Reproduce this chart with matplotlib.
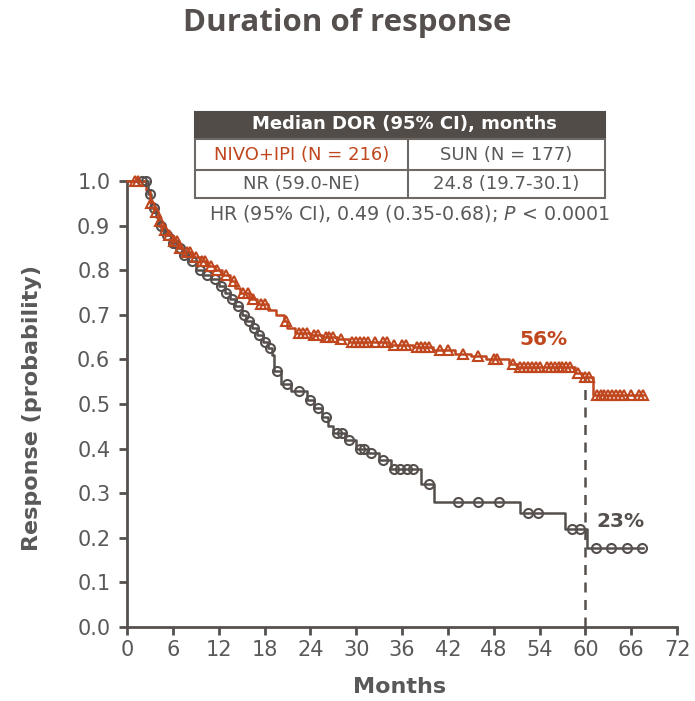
import numpy as np
import matplotlib
matplotlib.use("Agg")
import matplotlib.pyplot as plt
from matplotlib.patches import Rectangle

plt.rcParams['font.family'] = ['DejaVu Sans']

RED = "#C0461E"
GRAY = "#55504D"
TXT = "#595959"

# ---- data ----
nivo_t = [0, 2.5, 3.0, 3.5, 4.0, 4.5, 5.2, 6.0, 6.8, 7.5, 8.5, 9.5, 10.5, 11.5, 12.5,
          13.5, 14.2, 14.8, 16.0, 17.0, 18.5, 19.5, 20.5, 21.0, 22.0, 24.0, 25.5, 27.5,
          29.0, 34.3, 37.5, 40.0, 43.0, 45.0, 47.0, 50.0, 51.0, 58.7, 59.5, 61.0]
nivo_s = [1.0, 0.98, 0.95, 0.93, 0.91, 0.89, 0.88, 0.865, 0.85, 0.84, 0.83, 0.82, 0.81,
          0.80, 0.79, 0.775, 0.76, 0.75, 0.735, 0.725, 0.71, 0.70, 0.685, 0.67, 0.66,
          0.655, 0.65, 0.645, 0.64, 0.633, 0.628, 0.62, 0.612, 0.607, 0.60, 0.59, 0.582,
          0.57, 0.56, 0.52]
nivo_cens = [1.0, 1.5, 3.2, 3.8, 4.3, 5.0, 5.5, 6.2, 6.5, 7.0, 7.8, 8.2, 9.0, 9.8, 10.2,
             11.0, 11.8, 13.0, 14.0, 15.2, 15.8, 16.5, 17.5, 18.0, 20.8, 22.5, 23.0, 23.5,
             24.5, 25.0, 26.0, 26.5, 27.0, 28.0, 29.5, 30.0, 30.5, 31.0, 31.5, 32.5, 33.5,
             34.0, 35.0, 36.0, 36.5, 38.0, 38.5, 39.0, 39.5, 41.0, 42.0, 44.0, 46.0, 48.0,
             48.5, 50.5, 51.5, 52.0, 52.5, 53.0, 53.5, 54.0, 55.0, 55.5, 56.0, 56.5, 57.0,
             57.5, 58.0, 59.0, 60.0, 60.5, 61.5, 62.0, 62.5, 63.0, 63.5, 64.0, 64.5, 65.0,
             66.0, 67.0, 67.5]
nivo_end = 67.5

sun_t = [0, 2.8, 3.2, 3.8, 4.2, 5.0, 5.8, 6.5, 7.2, 8.0, 9.0, 10.0, 11.0, 12.0, 12.8,
         13.5, 14.2, 15.0, 15.6, 16.3, 17.0, 17.8, 18.5, 19.0, 19.3, 20.2, 21.5, 23.5,
         24.5, 25.5, 26.3, 27.0, 28.5, 30.0, 31.5, 33.0, 34.5, 38.5, 40.2, 51.5, 57.3, 60.2]
sun_s = [1.0, 0.97, 0.94, 0.92, 0.90, 0.88, 0.86, 0.85, 0.835, 0.82, 0.80, 0.79, 0.78,
         0.765, 0.75, 0.735, 0.72, 0.70, 0.685, 0.67, 0.655, 0.64, 0.625, 0.61, 0.575,
         0.545, 0.53, 0.51, 0.49, 0.47, 0.45, 0.435, 0.42, 0.40, 0.39, 0.375, 0.355,
         0.32, 0.28, 0.255, 0.22, 0.178]
sun_cens = [2.0, 2.5, 3.0, 3.5, 4.5, 5.3, 6.0, 7.0, 7.5, 8.5, 9.5, 10.5, 11.5, 12.3, 13.0,
            13.8, 14.5, 15.3, 16.0, 16.6, 17.3, 18.0, 18.7, 19.7, 21.0, 22.5, 24.0, 25.0,
            26.0, 27.5, 28.2, 29.0, 30.5, 31.0, 32.0, 33.5, 35.0, 35.8, 36.6, 37.5, 39.5,
            43.3, 46.0, 48.7, 52.5, 53.8, 58.2, 59.3, 61.4, 63.4, 65.4, 67.4]
sun_end = 67.5

x_ticks = [0, 6, 12, 18, 24, 30, 36, 42, 48, 54, 60, 66, 72]
y_ticks = [0.0, 0.1, 0.2, 0.3, 0.4, 0.5, 0.6, 0.7, 0.8, 0.9, 1.0]
landmark = 60
nivo_label = "56%"
sun_label = "23%"


def surv_at(t_steps, s_steps, t):
    idx = np.searchsorted(np.asarray(t_steps), np.asarray(t), side='right') - 1
    return np.asarray(s_steps)[idx]


fig = plt.figure(figsize=(6.95, 7.01), dpi=100)
ax = fig.add_axes([127 / 695, 1 - 627 / 701, 550 / 695, 446 / 701])

# curves
for t, s, end, cens, col, mk in [(sun_t, sun_s, sun_end, sun_cens, GRAY, 'o'),
                                  (nivo_t, nivo_s, nivo_end, nivo_cens, RED, '^')]:
    tt = list(t) + [end]
    ss = list(s) + [s[-1]]
    ax.step(tt, ss, where='post', color=col, lw=1.8, clip_on=False, zorder=3)
    ax.plot(cens, surv_at(t, s, cens), linestyle='none', marker=mk, ms=6.5,
            mfc='none', mec=col, mew=1.5, clip_on=False, zorder=4)

# landmark dashed line
ax.plot([landmark, landmark], [0, surv_at(nivo_t, nivo_s, landmark - 0.01)],
        color=GRAY, lw=1.8, ls=(0, (4, 3)), zorder=2)

ax.text(54.5, 0.645, nivo_label, color=RED, fontsize=14.5, fontweight='bold',
        ha='center', va='center')
ax.text(64.6, 0.237, sun_label, color=GRAY, fontsize=14.5, fontweight='bold',
        ha='center', va='center')

ax.set_xlim(0, 72)
ax.set_ylim(0, 1.0)
ax.set_xticks(x_ticks)
ax.set_yticks(y_ticks)
ax.set_yticklabels([f"{v:.1f}" for v in y_ticks])
for sp in ['top', 'right']:
    ax.spines[sp].set_visible(False)
for sp in ['left', 'bottom']:
    ax.spines[sp].set_color(GRAY)
    ax.spines[sp].set_linewidth(2)
ax.tick_params(axis='both', direction='out', color=GRAY, width=2, length=6,
               labelsize=15, labelcolor=TXT, pad=3)
ax.tick_params(axis='y', pad=6)
ax.set_xlabel("Months", fontsize=16, fontweight='bold', color=TXT)
ax.set_ylabel("Response (probability)", fontsize=16, fontweight='bold', color=TXT)
ax.yaxis.set_label_coords((42 - 127) / 550, (627 - 408) / 446)
ax.xaxis.set_label_coords((400 - 127) / 550, -(677 - 627) / 446)

# title
fig.text(0.5, 1 - 23 / 701, "Duration of response", ha='center', va='center',
         fontsize=22.5, fontweight='bold', color=GRAY, family='Open Sans')

# table
W, H = 695, 701
def fx(px): return px / W
def fy(py): return 1 - py / H
x0, x1, xm = 195, 605, 408
y0, y1, y2, y3 = 112, 139, 170, 198
fig.patches.append(Rectangle((fx(x0), fy(y1)), fx(x1) - fx(x0), fy(y0) - fy(y1),
                             transform=fig.transFigure, facecolor="#524C48",
                             edgecolor="#524C48", lw=1.5))
fig.patches.append(Rectangle((fx(x0), fy(y3)), fx(x1) - fx(x0), fy(y1) - fy(y3),
                             transform=fig.transFigure, facecolor="white",
                             edgecolor="#6E6965", lw=1.5))
fig.add_artist(plt.Line2D([fx(x0), fx(x1)], [fy(y2), fy(y2)], color="#6E6965", lw=1.5))
fig.add_artist(plt.Line2D([fx(xm), fx(xm)], [fy(y1), fy(y3)], color="#6E6965", lw=1.5))
fig.text(fx((x0 + x1) / 2) + 0.006, fy((y0 + y1) / 2) + 0.002, "Median DOR (95% CI), months",
         ha='center', va='center', color='white', fontweight='bold', fontsize=13)
fig.text(fx((x0 + xm) / 2), fy((y1 + y2) / 2), "NIVO+IPI (N = 216)",
         ha='center', va='center', color=RED, fontsize=13)
fig.text(fx((xm + x1) / 2), fy((y1 + y2) / 2), "SUN (N = 177)",
         ha='center', va='center', color=TXT, fontsize=13)
fig.text(fx((x0 + xm) / 2), fy((y2 + y3) / 2), "NR (59.0-NE)",
         ha='center', va='center', color=TXT, fontsize=13)
fig.text(fx((xm + x1) / 2), fy((y2 + y3) / 2), "24.8 (19.7-30.1)",
         ha='center', va='center', color=TXT, fontsize=13)
fig.text(fx(409), fy(214), "HR (95% CI), 0.49 (0.35-0.68); $\\mathit{P}$ < 0.0001",
         ha='center', va='center', color=TXT, fontsize=13.7)

fig.savefig("out.png", dpi=100, facecolor='white')
